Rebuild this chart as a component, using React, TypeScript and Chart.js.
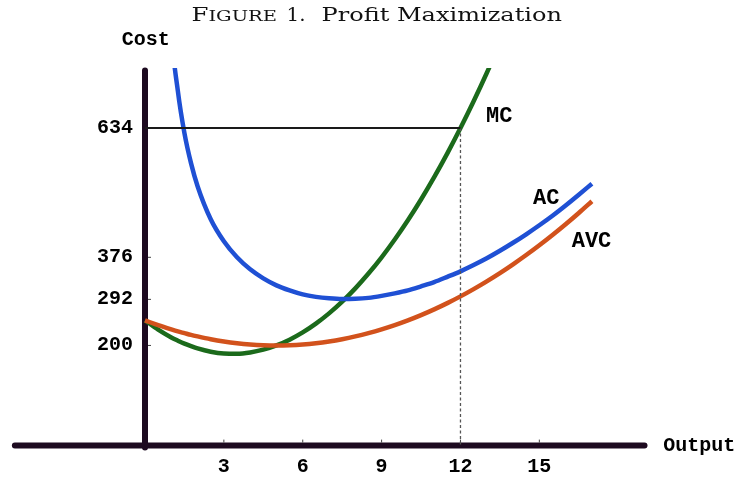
import React, { useEffect, useRef } from "react";
import { Chart, registerables } from "chart.js";

Chart.register(...registerables);

// ---- data ----
const outputQ = [0, 0.5, 1, 1.25, 1.5, 1.75, 2, 2.5, 3, 3.5, 4, 4.5, 5, 5.5, 6, 6.5, 7, 7.5, 8, 8.5, 9, 9.5, 10, 10.5, 11, 11.5, 12, 12.5, 13, 13.5, 14, 14.5, 15, 15.5, 16, 16.5, 17];
const acValues = [null, 1440, 832, 708, 624, 564, 518, 452, 408, 376, 352, 334, 320, 310, 302, 297, 294, 292.5, 293, 295, 299, 304, 310, 318, 326.5, 337, 348, 360.5, 374, 389, 405, 422, 440, 459, 479.5, 501, 523];
const avcValues = [250, 240.5, 232, 228, 224.5, 221, 218, 212.5, 208, 204.5, 202, 200.5, 200, 200.5, 202, 204.5, 208, 212.5, 218, 224.5, 232, 240.5, 250, 260.5, 272, 284.5, 298, 312.5, 328, 344.5, 362, 380.5, 400, 420.5, 442, 464.5, 488];
const mcValues = [250, 231.5, 216, 209.5, 203.5, 198.5, 194, 187.5, 184, 183.5, 186, 191.5, 200, 211.5, 226, 243.5, 264, 287.5, 314, 343.5, 376, 411.5, 450, 491.5, 536, 583.5, 634, 687.5, 744, 803.5, null, null, null, null, null, null, null];

const xTickValues = [3, 6, 9, 12, 15];
const yTickValues = [200, 292, 376, 634];

const optimalOutput = 12;
const optimalPrice = 634;

const titleWord = "Figure";
const titleNumber = "1.";
const titleMain = "Profit Maximization";
const yAxisTitle = "Cost";
const xAxisTitle = "Output";

// label anchors (data coordinates)
const curveLabels = [
  { text: "MC", q: 12.97, v: 646 },
  { text: "AC", q: 14.76, v: 482 },
  { text: "AVC", q: 16.23, v: 396 },
];

const AXIS_COLOR = "#1d0a20";
const MONO = "'Liberation Mono', 'DejaVu Sans Mono', monospace";
const SERIF = "'DejaVu Serif', 'Liberation Serif', serif";

function drawStretched(ctx: any, parts: { text: string; font: string }[], x0: number, x1: number, baseline: number) {
  let total = 0;
  const widths = parts.map((p) => {
    ctx.font = p.font;
    const w = ctx.measureText(p.text).width;
    total += w;
    return w;
  });
  const sx = (x1 - x0) / total;
  ctx.save();
  ctx.translate(x0, baseline);
  ctx.scale(sx, 1);
  let cx = 0;
  parts.forEach((p, i) => {
    ctx.font = p.font;
    ctx.fillText(p.text, cx, 0);
    cx += widths[i];
  });
  ctx.restore();
}

const econPlugin = {
  id: "econAxes",
  beforeDatasetsDraw(chart: any) {
    const { ctx, scales } = chart;
    const x = scales.x;
    const y = scales.y;
    const x0 = x.getPixelForValue(0);
    const y0 = y.getPixelForValue(0);
    ctx.save();
    ctx.strokeStyle = AXIS_COLOR;
    ctx.lineWidth = 6;
    ctx.lineCap = "round";
    ctx.beginPath();
    ctx.moveTo(x.getPixelForValue(-4.95), y0);
    ctx.lineTo(x.getPixelForValue(19), y0);
    ctx.stroke();
    ctx.beginPath();
    ctx.moveTo(x0, y.getPixelForValue(-4));
    ctx.lineTo(x0, y.getPixelForValue(749));
    ctx.stroke();
    // small tick marks
    ctx.lineCap = "butt";
    ctx.lineWidth = 1;
    ctx.strokeStyle = "#444";
    xTickValues.forEach((v) => {
      const px = x.getPixelForValue(v);
      ctx.beginPath();
      ctx.moveTo(px, y0 - 3);
      ctx.lineTo(px, y0 - 6);
      ctx.stroke();
    });
    yTickValues.forEach((v) => {
      const py = y.getPixelForValue(v);
      ctx.beginPath();
      ctx.moveTo(x0 + 3, py);
      ctx.lineTo(x0 + 6, py);
      ctx.stroke();
    });
    ctx.restore();
  },
  afterDraw(chart: any) {
    const { ctx, scales } = chart;
    const x = scales.x;
    const y = scales.y;
    ctx.save();
    ctx.textBaseline = "alphabetic";
    ctx.textAlign = "left";
    // ---- title ----
    const s = 18.6;
    const baseline = 20.7;
    ctx.fillStyle = "#111";
    drawStretched(
      ctx,
      [
        { text: titleWord[0].toUpperCase(), font: `${s}px ${SERIF}` },
        { text: titleWord.slice(1).toUpperCase(), font: `${(s * 0.8).toFixed(2)}px ${SERIF}` },
      ],
      191.5,
      277,
      baseline
    );
    drawStretched(ctx, [{ text: titleNumber, font: `${s}px ${SERIF}` }], 286.5, 305.5, baseline);
    drawStretched(ctx, [{ text: titleMain, font: `${s}px ${SERIF}` }], 321.5, 562, baseline);
    // ---- axis titles ----
    ctx.fillStyle = "#000";
    ctx.font = `bold 20px ${MONO}`;
    ctx.fillText(yAxisTitle, x.getPixelForValue(-0.886), y.getPixelForValue(799));
    ctx.fillText(xAxisTitle, x.getPixelForValue(19.71), y.getPixelForValue(-10));
    // ---- curve labels ----
    ctx.font = `bold 22px ${MONO}`;
    curveLabels.forEach((l) => {
      ctx.fillText(l.text, x.getPixelForValue(l.q), y.getPixelForValue(l.v));
    });
    ctx.restore();
  },
};

export default function App() {
  const canvasRef = useRef<HTMLCanvasElement | null>(null);

  useEffect(() => {
    if (!canvasRef.current) return;
    const toPoints = (vals: (number | null)[]) => outputQ.map((q, i) => ({ x: q, y: vals[i] }));
    const curveStyle = {
      borderWidth: 4.5,
      pointRadius: 0,
      fill: false,
      cubicInterpolationMode: "monotone" as const,
      clip: { left: 5, top: 0, right: 5, bottom: 5 },
    };
    const chart = new Chart(canvasRef.current, {
      type: "line",
      data: {
        datasets: [
          {
            label: "profit line",
            data: [
              { x: 0, y: optimalPrice },
              { x: optimalOutput, y: optimalPrice },
            ],
            borderColor: "#1a1a1a",
            borderWidth: 2,
            pointRadius: 0,
          },
          {
            label: "quantity line",
            data: [
              { x: optimalOutput, y: optimalPrice },
              { x: optimalOutput, y: 0 },
            ],
            borderColor: "#555",
            borderWidth: 1.3,
            borderDash: [3, 2.5],
            pointRadius: 0,
          },
          { label: "AVC", data: toPoints(avcValues) as any, borderColor: "#d2521c", ...curveStyle },
          { label: "AC", data: toPoints(acValues) as any, borderColor: "#1f50d4", ...curveStyle },
          { label: "MC", data: toPoints(mcValues) as any, borderColor: "#1b6a1b", ...curveStyle },
        ],
      },
      options: {
        animation: false,
        responsive: true,
        maintainAspectRatio: false,
        layout: { padding: { top: 68, right: 95.5, left: 0, bottom: 0 } },
        plugins: {
          legend: { display: false },
          tooltip: { enabled: false },
          title: { display: false },
        },
        scales: {
          x: {
            type: "linear",
            min: 0,
            max: 19,
            position: "bottom",
            afterFit: (sc: any) => {
              sc.height = 32.4;
            },
            afterBuildTicks: (sc: any) => {
              sc.ticks = xTickValues.map((v) => ({ value: v }));
            },
            grid: { display: false, drawTicks: false },
            border: { display: false },
            ticks: {
              autoSkip: false,
              maxRotation: 0,
              padding: 9,
              color: "#000",
              font: { family: MONO, weight: "bold", size: 20 },
            },
          },
          y: {
            type: "linear",
            min: 0,
            max: 754,
            position: "left",
            afterFit: (sc: any) => {
              sc.width = 145;
            },
            afterBuildTicks: (sc: any) => {
              sc.ticks = yTickValues.map((v) => ({ value: v }));
            },
            grid: { display: false, drawTicks: false },
            border: { display: false },
            ticks: {
              autoSkip: false,
              padding: 12,
              color: "#000",
              font: { family: MONO, weight: "bold", size: 20 },
            },
          },
        },
      },
      plugins: [econPlugin],
    });
    return () => chart.destroy();
  }, []);

  return (
    <div style={{ position: "fixed", left: 0, top: 0, width: 740, height: 478, background: "#fff" }}>
      <canvas ref={canvasRef} />
    </div>
  );
}
